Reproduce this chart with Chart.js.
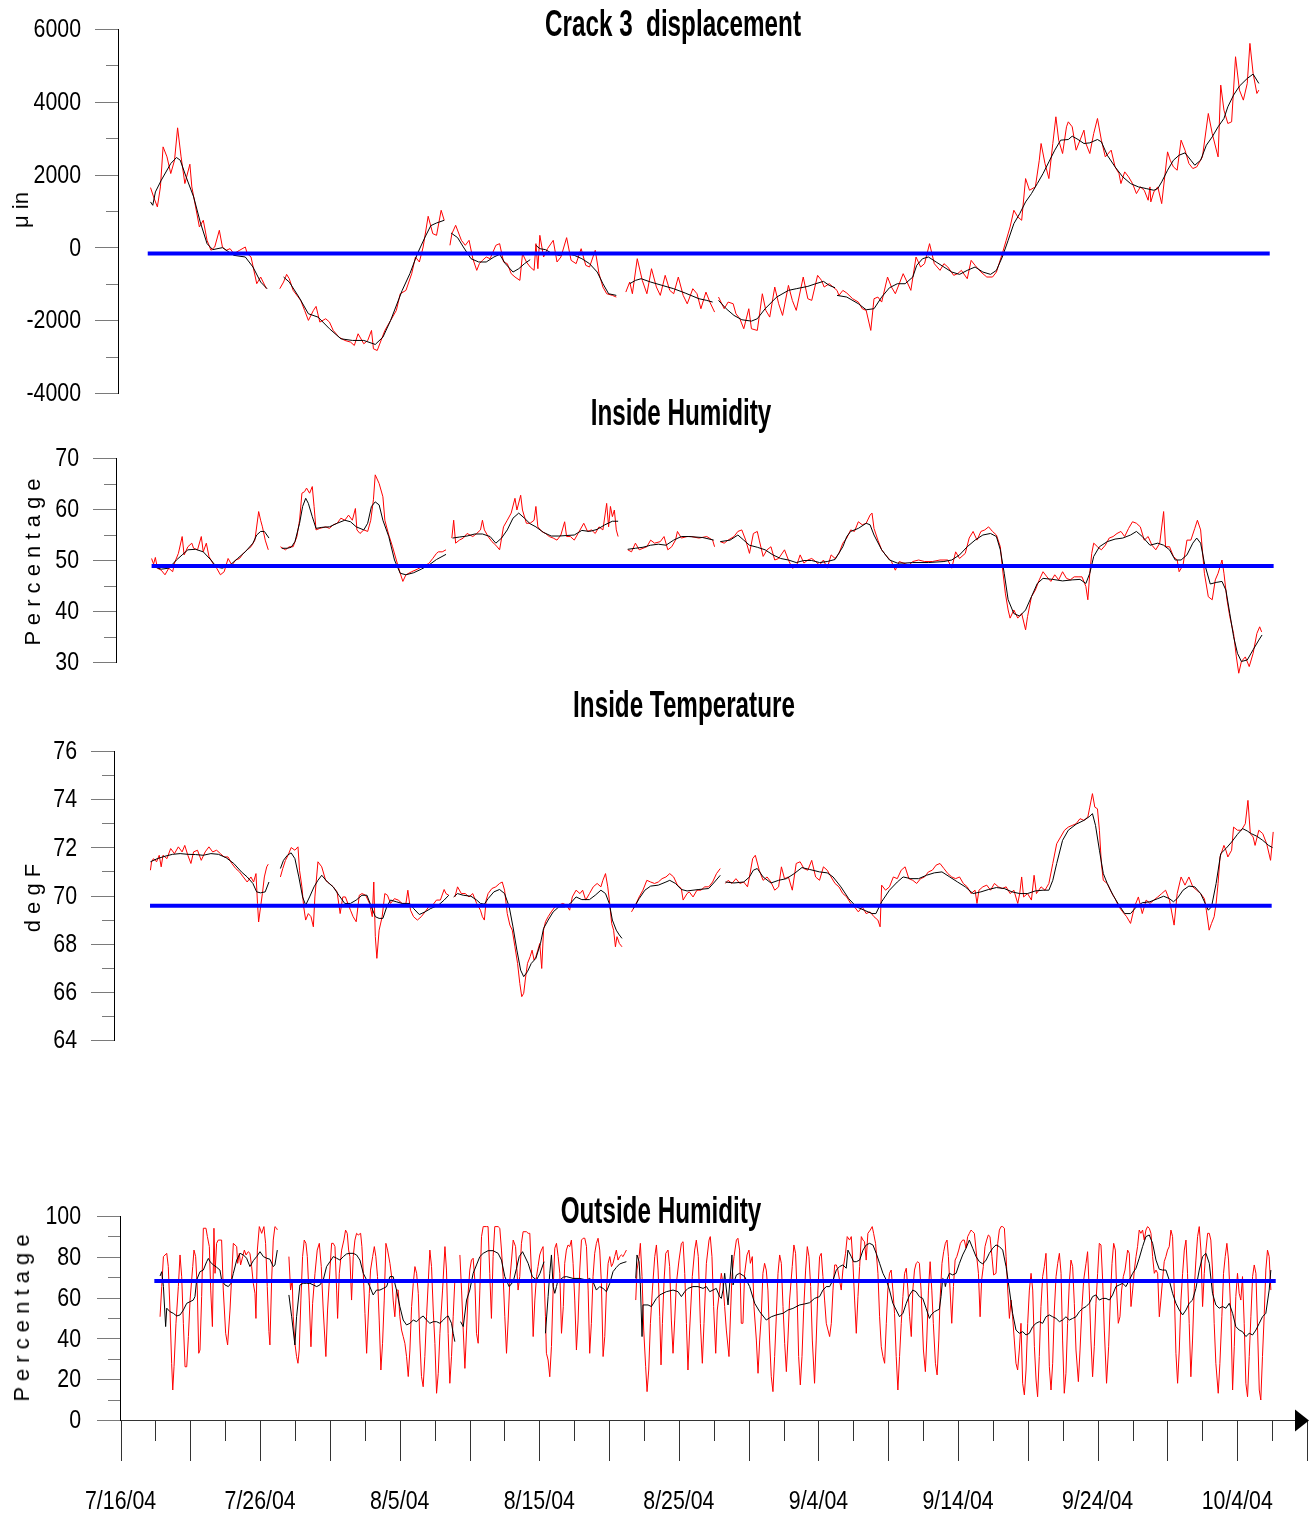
<!DOCTYPE html>
<html>
<head>
<meta charset="utf-8">
<title>Crack 3 displacement</title>
<script src="https://cdn.jsdelivr.net/npm/chart.js@4.4.1/dist/chart.umd.min.js"></script>
<style>
  html, body { margin: 0; padding: 0; background: #fff; }
  #page { position: relative; width: 1315px; height: 1519px; overflow: hidden; background: #fff; }
  #page canvas { position: absolute; left: 0; }
  .ttl { position: absolute; font-family: 'Liberation Sans', Arimo, Arial, sans-serif;
         font-weight: bold; font-size: 37px; line-height: 37px; white-space: pre;
         transform: translateX(-50%) scaleX(0.655); color: #000; }
  .ylab { position: absolute; font-family: 'Liberation Sans', Arimo, Arial, sans-serif; font-size: 22px; line-height: 24px;
          white-space: pre; transform: translate(-50%, -50%) rotate(-90deg); color: #000; }
</style>
</head>
<body>
<div id="page">
  <canvas id="cCrack" width="1315" height="415" style="top:0px"></canvas>
  <canvas id="cHumIn" width="1315" height="285" style="top:400px"></canvas>
  <canvas id="cTempIn" width="1315" height="360" style="top:700px"></canvas>
  <canvas id="cHumOut" width="1315" height="339" style="top:1180px"></canvas>

  <div class="ttl" style="left:673px; top:5px">Crack 3  displacement</div>
  <div class="ttl" style="left:681px; top:394px">Inside Humidity</div>
  <div class="ttl" style="left:684px; top:686px">Inside Temperature</div>
  <div class="ttl" style="left:661px; top:1192px">Outside Humidity</div>

  <div class="ylab" style="left:21px; top:210px">μ in</div>
  <div class="ylab" style="left:33px; top:562px">P e r c e n t a g e</div>
  <div class="ylab" style="left:33px; top:898px">d e g F</div>
  <div class="ylab" style="left:22px; top:1318px">P e r c e n t a g e</div>
</div>

<script>
// ── DATA (x = days after 7/16/04, null = break in the record) ──

// Crack 3 displacement, µin : raw readings (red) and smoothed (black)
const crackRed = [
  [2.15,1643],[2.37,1387],[2.64,1112],[2.86,1662],[3.05,2762],[3.33,2487],[3.6,2029],[3.87,2395],[4.09,3285],[4.34,2487],
  [4.61,1754],[4.97,2285],[5.11,1662],[5.38,1112],[5.65,562],[5.93,745],[6.2,195],[6.48,-80],[6.75,11],[7.08,470],
  [7.3,11],[7.57,-80],[7.85,-35],[8.12,-172],[8.53,-80],[8.94,11],[9.08,-172],[9.35,-264],[9.76,-997],[10.04,-814],[10.45,-1135],
  null,
  [11.41,-1135],[11.68,-952],[11.9,-741],[12.09,-860],[12.37,-1181],[12.91,-1456],[13.19,-1731],[13.46,-2006],[13.82,-1731],
  [14.01,-1621],[14.28,-2052],[14.7,-1960],[14.97,-2052],[15.24,-2281],[15.65,-2465],[16.07,-2556],[16.48,-2602],[16.75,-2694],
  [17.02,-2373],[17.43,-2648],[17.71,-2556],[17.98,-2281],[18.12,-2786],[18.39,-2832],[18.94,-2281],[19.35,-2006],[19.76,-1731],
  [20.04,-1273],[20.45,-1181],[20.86,-722],[21.13,-264],[21.41,-401],[21.68,11],[22.04,855],[22.37,378],[22.64,332],[22.97,1020],[23.19,745],
  null,
  [23.6,57],[23.74,378],[24.01,607],[24.42,195],[24.7,57],[24.97,195],[25.24,-310],[25.52,-631],[25.71,-447],[25.93,-356],
  [26.2,-264],[26.48,-310],[26.89,57],[27.16,103],[27.44,-401],[27.71,-447],[27.99,-722],[28.26,-814],[28.61,-906],[28.8,-172],
  [29.08,-401],[29.35,-539],[29.63,-631],[29.76,103],[29.9,-585],[30.04,332],[30.31,-264],[30.59,-35],[31.0,195],[31.27,-401],
  [31.55,-264],[31.96,268],[32.28,-356],[32.64,-447],[33.0,-35],[33.33,-493],[33.6,-539],[34.01,-80],[34.28,-722],[34.56,-1089],
  [34.83,-1273],[35.24,-1318],[35.52,-1364],
  null,
  [36.2,-1227],[36.48,-952],[36.67,-1273],[37.02,-310],[37.38,-906],[37.71,-1273],[38.04,-585],[38.39,-1089],[38.67,-1318],
  [39.02,-768],[39.35,-1181],[39.63,-1273],[39.96,-814],[40.31,-1318],[40.6,-1550],[41.0,-1135],[41.3,-1273],[41.58,-1685],
  [41.94,-1227],[42.22,-1502],[42.56,-1777],
  null,
  [42.84,-1364],[43.25,-1685],[43.53,-1502],[43.89,-1548],[44.09,-1823],[44.37,-1960],[44.65,-2235],[45.01,-1685],[45.2,-2235],
  [45.62,-2281],[45.98,-1273],[46.23,-1731],[46.51,-1915],[46.87,-1089],[47.15,-1548],[47.43,-1869],[47.85,-1043],[48.13,-1456],
  [48.41,-1731],[48.91,-814],[49.24,-1410],[49.52,-1456],[49.94,-768],[50.22,-906],[50.41,-1089],[50.77,-998],[51.05,-1089],
  [51.33,-1181],[51.47,-1318],[51.75,-1181],[52.03,-1254],[52.45,-1410],[52.86,-1502],[53.14,-1685],[53.42,-1731],[53.75,-2281],
  [53.98,-1410],[54.26,-1364],[54.53,-1502],[54.95,-814],[55.23,-1089],[55.51,-1273],[55.79,-998],[56.07,-722],[56.35,-952],
  [56.62,-1181],[56.99,-264],[57.32,-539],[57.6,-447],[57.96,103],[58.3,-447],[58.71,-631],[58.99,-447],[59.27,-539],[59.69,-768],
  [59.97,-722],[60.24,-631],[60.66,-860],[60.94,-356],[61.22,-493],[61.64,-677],[62.06,-814],[62.47,-814],[62.75,-677],[63.17,-172],
  [63.45,195],[63.73,562],[64.0,1020],[64.28,837],[64.56,745],[64.84,1891],[65.12,1570],[65.54,1662],[65.82,2395],[65.95,2854],
  [66.23,2304],[66.51,1891],[66.79,2854],[67.01,3588],[67.21,2946],[67.49,2579],[67.77,3312],[67.9,3450],[68.18,3312],[68.46,2671],
  [68.74,2946],[69.02,3221],[69.16,2854],[69.44,2579],[69.72,3129],[69.99,3542],[70.27,2946],[70.55,2487],[70.97,2671],[71.25,2212],
  [71.53,2029],[71.67,1754],[71.94,2075],[72.22,1937],[72.5,1754],[72.78,1478],[73.06,1662],[73.34,1570],[73.62,1295],[73.75,1662],
  [73.81,1249],[74.03,1524],[74.31,1662],[74.59,1203],[75.01,2625],[75.2,2395],[75.43,2212],[75.7,2120],[75.98,2946],[76.26,2671],
  [76.54,2304],[76.82,2166],[77.1,2212],[77.51,2487],[77.93,3679],[78.21,3129],[78.63,2487],[78.82,4459],[79.05,3771],[79.33,3404],
  [79.6,3450],[79.88,5238],[80.16,4321],[80.44,4046],[80.72,4505],[80.91,5605],[81.14,4780],[81.41,4229],[81.55,4321]
];
const crackBlack = [
  [2.15,1249],[2.31,1157],[2.5,1524],[2.92,1845],[3.6,2304],[4.01,2469],[4.28,2395],[4.7,1937],[5.24,1387],[5.71,699],
  [6.2,103],[6.61,-62],[7.3,-7],[8.12,-218],[8.94,-264],[9.49,-539],[10.04,-952],[10.5,-1135],
  null,
  [11.68,-814],[12.09,-952],[12.78,-1364],[13.46,-1823],[14.15,-1915],[14.97,-2235],[15.79,-2511],[16.61,-2556],[17.43,-2556],
  [18.25,-2666],[18.8,-2465],[19.35,-2006],[20.18,-1181],[20.73,-722],[21.27,-172],[21.82,286],[22.23,598],[22.64,671],[23.19,745],
  null,
  [23.68,396],[24.15,268],[24.56,11],[25.11,-310],[25.66,-401],[26.2,-401],[26.75,-264],[27.16,-191],[27.57,-447],[28.12,-677],
  [28.53,-585],[28.94,-447],[29.35,-337],
  null,
  [29.76,57],[30.04,-35],[30.45,-62],[30.86,-154],[31.41,-218],[31.96,-172],[32.51,-218],[33.05,-310],[33.6,-447],[34.15,-677],
  [34.56,-998],[34.97,-1273],[35.52,-1318],
  null,
  [36.48,-998],[36.89,-906],[37.3,-860],[37.98,-952],[38.8,-1043],[39.63,-1135],[40.45,-1254],[41.44,-1410],[42.0,-1456],[42.42,-1502],
  null,
  [42.84,-1456],[43.39,-1685],[43.95,-1869],[44.51,-1988],[45.2,-2025],[45.62,-1960],[46.18,-1685],[47.01,-1364],[47.85,-1181],
  [48.41,-1135],[49.24,-1071],[49.8,-998],[50.36,-933],[50.77,-1043],[51.19,-1108],
  null,
  [51.33,-1318],[52.03,-1364],[52.86,-1548],[53.42,-1713],[53.98,-1685],[54.53,-1364],[55.09,-1108],[55.65,-998],[56.21,-998],
  [56.76,-814],[57.04,-493],[57.46,-310],[57.88,-264],[58.43,-401],[58.99,-539],[59.55,-677],[60.11,-741],[60.66,-631],[61.22,-539],
  [61.78,-677],[62.33,-741],[62.75,-631],[63.17,-264],[63.59,195],[64.0,653],[64.42,928],[64.84,1249],[65.26,1478],[65.68,1754],
  [66.09,2029],[66.51,2349],[66.93,2671],[67.35,2946],[67.9,2964],[68.18,3056],[68.6,2964],[69.02,2854],[69.44,2872],[69.99,2964],
  [70.27,2900],[70.69,2533],[71.25,2212],[71.8,1937],[72.36,1754],[72.92,1662],[73.48,1616],[74.03,1570],[74.31,1616],[74.59,1799],
  [75.01,2120],[75.43,2395],[75.84,2533],[76.26,2597],[76.68,2395],[76.96,2258],[77.38,2395],[77.79,2808],[78.21,3037],[78.63,3312],
  [79.05,3542],[79.33,3863],[79.74,4184],[80.16,4431],[80.72,4642],[81.14,4761],[81.55,4505]
];
const crackMean = [[1.95,-170],[82.33,-170]];

// Inside humidity, %
const humInRed = [
  [2.23,50.3],[2.37,49.2],[2.5,50.5],[2.64,48.4],[2.92,48.0],[3.19,47.1],[3.46,48.4],[3.74,47.7],[3.87,49.4],[4.15,51.3],
  [4.42,54.6],[4.56,51.0],[4.83,52.6],[5.11,53.3],[5.24,52.3],[5.52,52.0],[5.79,54.6],[5.93,51.6],[6.15,53.3],[6.34,50.7],
  [6.61,49.4],[6.89,48.4],[7.16,47.1],[7.43,47.7],[7.71,50.3],[7.98,49.0],[8.26,50.0],[8.53,50.3],[8.8,51.3],[9.08,52.0],
  [9.35,52.6],[9.63,53.9],[9.9,59.5],[10.04,57.8],[10.17,56.5],[10.37,53.9],[10.59,52.0],
  null,
  [11.46,52.6],[11.63,52.3],[11.82,52.0],[12.09,52.6],[12.37,52.6],[12.64,54.6],[12.83,57.8],[13.0,63.1],[13.19,63.4],[13.33,64.1],
  [13.55,63.1],[13.74,64.4],[13.87,60.5],[14.01,55.9],[14.28,56.2],[14.7,56.5],[14.97,56.2],[15.24,56.9],[15.52,57.2],[15.79,58.2],
  [16.07,57.8],[16.34,58.8],[16.61,57.8],[16.83,60.1],[16.94,55.9],[17.16,55.2],[17.43,55.9],[17.71,55.6],[17.93,57.8],[18.12,61.8],
  [18.25,66.7],[18.53,65.0],[18.8,62.4],[18.94,57.8],[19.22,54.9],[19.49,52.6],[19.76,50.0],[20.04,47.4],[20.23,45.8],[20.45,47.1],
  [20.86,47.7],[21.27,48.2],[21.68,48.8],[22.09,49.3],[22.37,50.3],[22.64,51.3],[22.78,51.6],[23.05,51.6],[23.32,52.0],
  null,
  [23.74,54.3],[23.87,57.8],[24.01,53.3],[24.28,53.9],[24.56,54.3],[24.83,55.2],[25.24,54.6],[25.52,55.2],[25.79,55.9],[25.93,57.8],
  [26.07,55.9],[26.34,54.6],[26.61,53.6],[26.89,52.9],[27.16,52.0],[27.44,56.5],[27.71,57.8],[27.99,59.2],[28.26,62.1],[28.4,59.8],
  [28.67,62.7],[28.8,59.8],[29.08,57.2],[29.35,57.2],[29.63,57.8],[29.76,60.5],[29.9,56.5],[30.18,55.6],[30.45,55.2],[30.72,54.6],
  [31.0,54.3],[31.27,53.9],[31.55,54.9],[31.82,57.5],[31.96,54.6],[32.23,54.6],[32.51,53.9],[32.78,55.2],[33.19,57.2],[33.46,55.6],
  [33.74,55.9],[34.01,55.2],[34.28,56.5],[34.56,55.9],[34.83,61.1],[34.97,56.5],[35.1,60.5],[35.24,58.5],[35.38,59.8],[35.52,55.9],[35.65,54.6],
  null,
  [36.34,52.0],[36.61,51.6],[36.89,53.3],[37.16,52.0],[37.43,52.3],[37.71,52.6],[37.98,53.9],[38.26,53.3],[38.67,53.6],[38.94,54.6],
  [39.21,52.0],[39.49,52.6],[39.76,53.9],[39.9,55.6],[40.18,54.3],[40.59,54.6],[40.89,54.6],[41.44,54.3],[42.0,54.6],[42.42,53.9],[42.56,52.6],
  null,
  [42.97,53.6],[43.25,53.3],[43.53,53.9],[43.95,54.6],[44.23,55.6],[44.51,55.9],[44.79,53.9],[45.06,51.3],[45.34,55.2],[45.62,55.6],
  [45.76,53.9],[46.04,50.7],[46.32,52.0],[46.6,52.6],[46.87,50.0],[47.15,50.3],[47.57,52.0],[47.85,50.0],[48.13,48.4],[48.41,48.7],
  [48.69,51.0],[48.96,49.4],[49.24,50.0],[49.52,50.3],[49.8,49.7],[50.08,49.0],[50.36,50.0],[50.63,48.4],[50.91,51.0],[51.19,50.3],
  [51.47,51.3],[51.75,53.3],[52.03,54.3],[52.31,55.9],[52.58,55.6],[52.86,57.5],[53.14,56.9],[53.42,57.2],[53.7,58.8],[53.84,59.2],
  [53.98,56.2],[54.26,53.9],[54.53,52.0],[54.81,51.0],[55.23,49.7],[55.51,48.0],[55.79,49.7],[56.07,49.4],[56.48,49.0],[56.76,49.7],
  [57.18,50.0],[57.6,49.7],[58.16,49.7],[58.71,50.0],[59.27,50.0],[59.55,48.4],[59.83,51.6],[60.11,50.3],[60.52,51.3],[60.8,54.3],
  [61.08,55.6],[61.36,53.9],[61.64,55.6],[61.92,55.9],[62.19,56.5],[62.47,55.6],[62.75,54.9],[63.03,52.6],[63.17,48.7],[63.39,43.5],
  [63.59,40.2],[63.73,38.6],[64.0,40.2],[64.28,38.6],[64.56,39.5],[64.84,36.3],[64.98,38.9],[65.26,42.8],[65.54,44.1],[65.82,46.1],
  [66.09,47.7],[66.37,46.7],[66.65,45.8],[66.93,47.1],[67.21,46.1],[67.49,47.7],[67.77,46.4],[68.04,46.1],[68.32,46.7],[68.6,46.7],
  [68.88,46.7],[69.16,44.8],[69.3,42.2],[69.44,47.4],[69.58,51.3],[69.72,53.3],[69.99,52.6],[70.27,52.0],[70.55,52.9],[70.83,54.3],
  [71.11,54.6],[71.39,55.2],[71.67,55.6],[71.94,54.6],[72.22,56.2],[72.5,57.5],[72.78,57.2],[73.06,56.5],[73.34,53.9],[73.62,54.6],
  [73.89,52.9],[74.17,52.0],[74.45,53.3],[74.73,59.5],[74.87,52.6],[75.15,52.6],[75.43,50.7],[75.7,50.0],[75.84,47.7],[76.12,49.0],
  [76.4,53.9],[76.68,53.9],[76.96,56.2],[77.15,57.8],[77.38,55.9],[77.65,47.4],[77.93,42.8],[78.21,42.2],[78.43,46.1],[78.63,47.4],
  [78.91,50.0],[79.05,47.4],[79.27,42.2],[79.47,38.9],[79.74,35.6],[79.94,31.0],[80.11,27.8],[80.3,30.1],[80.58,31.0],[80.86,29.1],
  [81.14,31.7],[81.41,35.6],[81.61,36.9],[81.75,35.9]
];
const humInBlack = [
  [2.37,48.7],[2.92,48.2],[3.46,48.4],[4.01,50.0],[4.42,51.0],[4.83,52.0],[5.38,52.1],[5.93,51.6],[6.48,50.0],[6.89,48.6],
  [7.3,48.4],[7.85,49.0],[8.39,50.3],[8.94,51.6],[9.49,53.3],[9.76,54.9],[10.04,55.6],[10.31,55.6],[10.64,54.3],
  null,
  [11.55,52.3],[11.96,52.3],[12.23,52.5],[12.5,53.6],[12.83,57.2],[13.05,60.5],[13.27,62.1],[13.46,61.1],[13.74,58.5],[14.01,56.2],
  [14.42,56.4],[14.97,56.5],[15.52,57.2],[16.07,57.8],[16.48,57.5],[16.89,56.5],[17.43,55.9],[17.71,57.2],[17.98,60.5],[18.25,61.4],
  [18.53,60.8],[18.8,57.8],[19.22,54.6],[19.63,50.0],[20.04,47.4],[20.45,47.1],[21.0,47.5],[21.55,48.2],[22.09,49.0],[22.64,50.1],[23.32,51.1],
  null,
  [23.79,54.3],[24.28,54.5],[24.83,54.7],[25.38,55.1],[25.93,55.1],[26.48,54.6],[26.89,53.3],[27.3,54.3],[27.71,55.9],[28.12,58.2],
  [28.53,59.2],[28.94,58.2],[29.35,57.1],[29.76,56.5],[30.31,55.4],[30.86,54.7],[31.41,54.7],[31.96,54.8],[32.51,54.9],[33.05,55.8],
  [33.6,55.6],[34.15,56.0],[34.7,56.9],[35.24,57.6],[35.65,57.6],
  null,
  [36.34,52.1],[36.89,52.3],[37.43,52.5],[37.98,52.9],[38.53,53.1],[39.08,52.9],[39.63,53.9],[40.18,54.6],[40.72,54.6],[41.72,54.4],[42.5,53.9],
  null,
  [42.97,53.6],[43.67,53.9],[44.23,54.9],[44.65,53.9],[45.06,52.9],[45.62,52.5],[46.18,52.0],[46.74,51.0],[47.29,50.3],[47.85,50.0],
  [48.41,49.5],[48.96,49.9],[49.52,49.9],[50.08,49.5],[50.63,49.7],[51.19,50.1],[51.75,52.6],[52.03,54.6],[52.31,55.6],[52.86,56.2],
  [53.42,57.2],[53.7,56.9],[53.98,54.9],[54.53,52.0],[55.09,50.0],[55.65,49.4],[56.21,49.4],[56.76,49.5],[57.88,49.5],[58.99,49.7],
  [59.55,50.0],[60.11,51.0],[60.66,52.6],[61.22,53.9],[61.78,54.9],[62.33,55.2],[62.75,54.6],[63.03,52.0],[63.31,47.4],[63.59,42.2],
  [64.0,39.5],[64.42,39.0],[64.84,40.2],[65.26,42.8],[65.68,45.4],[66.09,46.4],[66.79,46.2],[67.49,45.9],[68.18,46.1],[68.74,46.2],
  [69.16,45.4],[69.44,47.4],[69.72,50.7],[70.13,52.6],[70.69,53.6],[71.25,54.1],[71.8,54.3],[72.36,54.9],[72.78,55.6],[73.2,54.6],
  [73.75,52.9],[74.31,53.3],[74.73,52.9],[75.15,52.0],[75.56,50.0],[75.98,50.0],[76.4,51.0],[76.82,53.3],[77.1,54.3],[77.38,53.3],
  [77.65,49.4],[78.07,45.3],[78.49,45.6],[78.91,45.8],[79.19,44.1],[79.47,39.5],[79.74,35.0],[80.02,31.7],[80.3,30.1],[80.72,30.4],
  [81.14,32.4],[81.55,34.3],[81.78,35.3]
];
const humInMean = [[2.23,48.8],[82.61,48.8]];

// Inside temperature, deg F
const tempInRed = [
  [2.15,71.05],[2.23,71.4],[2.37,71.53],[2.59,71.4],[2.78,71.67],[2.92,71.19],[3.05,71.67],[3.33,71.53],[3.6,71.95],[3.87,71.74],
  [4.15,72.02],[4.42,71.81],[4.61,72.08],[4.83,71.67],[5.05,71.33],[5.24,71.81],[5.52,71.88],[5.79,71.46],[6.07,71.81],[6.34,72.02],
  [6.61,71.81],[6.89,71.88],[7.16,71.74],[7.43,71.6],[7.71,71.6],[7.98,71.33],[8.26,71.12],[8.53,70.98],[8.8,70.77],[9.08,70.56],
  [9.35,70.77],[9.54,70.56],[9.71,70.91],[9.82,69.67],[9.9,68.9],[10.04,69.53],[10.17,70.08],[10.31,70.77],[10.48,71.19],[10.59,71.3],
  null,
  [11.46,70.77],[11.63,71.12],[11.82,71.46],[12.01,71.67],[12.23,71.99],[12.5,71.88],[12.72,72.02],[12.83,71.05],[13.0,70.36],[13.13,69.53],
  [13.27,68.98],[13.46,69.25],[13.65,69.12],[13.82,68.7],[13.93,69.94],[14.15,71.4],[14.42,71.19],[14.7,70.63],[14.97,70.5],[15.24,70.36],
  [15.52,70.15],[15.74,69.25],[15.93,69.94],[16.12,69.94],[16.29,69.67],[16.48,69.39],[16.67,69.12],[16.89,68.91],[17.11,70.01],[17.3,70.08],
  [17.57,70.01],[17.85,69.67],[18.04,69.12],[18.15,70.56],[18.26,68.29],[18.37,67.39],[18.53,68.56],[18.75,69.12],[18.94,70.08],[19.13,70.01],
  [19.35,69.67],[19.63,69.87],[19.9,69.81],[20.18,69.67],[20.45,69.67],[20.59,70.22],[20.78,69.39],[21.0,69.12],[21.27,68.98],[21.55,69.12],
  [21.82,69.32],[22.09,69.53],[22.37,69.6],[22.64,69.81],[22.92,69.81],[23.19,70.25],[23.32,70.08],[23.52,70.01],
  null,
  [23.96,69.94],[24.15,70.36],[24.42,70.08],[24.7,70.08],[24.97,69.94],[25.24,70.08],[25.52,69.67],[25.79,69.39],[25.93,69.12],[26.07,68.98],
  [26.2,69.81],[26.34,70.08],[26.61,70.29],[26.89,70.36],[27.16,70.5],[27.35,70.56],[27.52,70.22],[27.71,69.25],[27.9,68.77],[28.07,68.56],
  [28.26,67.87],[28.45,67.18],[28.61,66.35],[28.75,65.8],[28.89,65.94],[29.0,66.49],[29.16,67.18],[29.35,67.46],[29.49,67.73],[29.63,67.32],
  [29.76,67.46],[29.9,67.73],[30.04,68.01],[30.18,66.97],[30.31,68.56],[30.45,68.91],[30.64,69.12],[30.86,69.32],[31.13,69.53],[31.41,69.6],
  [31.68,69.67],[31.96,69.6],[32.18,69.39],[32.37,69.94],[32.64,70.22],[32.92,70.08],[33.11,70.22],[33.33,69.81],[33.6,70.08],[33.87,70.36],
  [34.15,70.5],[34.42,70.36],[34.56,70.63],[34.75,70.91],[34.91,70.36],[35.05,69.67],[35.19,68.84],[35.33,68.56],[35.46,67.87],[35.57,68.29],
  [35.74,68.01],[35.93,67.87],
  null,
  [36.61,69.32],[36.89,69.6],[37.16,69.94],[37.43,70.22],[37.71,70.63],[37.98,70.56],[38.26,70.5],[38.53,70.56],[38.8,70.7],[39.08,70.77],
  [39.35,70.91],[39.63,70.77],[39.9,70.43],[40.18,70.29],[40.31,69.81],[40.59,70.08],[40.75,70.15],[41.02,69.94],[41.3,70.22],[41.58,70.22],
  [41.86,70.36],[42.14,70.36],[42.42,70.56],[42.7,70.91],[42.97,71.12],
  null,
  [43.34,70.5],[43.53,70.63],[43.81,70.5],[44.09,70.7],[44.37,70.5],[44.65,70.56],[44.92,70.36],[45.06,70.77],[45.29,71.53],[45.48,71.67],
  [45.76,71.05],[46.04,70.63],[46.32,70.77],[46.6,70.56],[46.87,70.22],[47.15,70.36],[47.35,71.19],[47.57,70.7],[47.85,70.77],[48.13,70.22],
  [48.41,71.33],[48.69,71.4],[48.96,71.12],[49.24,71.05],[49.52,71.46],[49.8,70.77],[50.08,70.63],[50.36,71.19],[50.63,71.05],[50.91,70.77],
  [51.19,70.5],[51.47,70.36],[51.75,70.08],[52.03,69.94],[52.31,69.67],[52.58,69.53],[52.86,69.32],[53.14,69.53],[53.42,69.25],[53.7,69.32],
  [53.98,69.12],[54.26,68.98],[54.42,68.7],[54.53,70.43],[54.81,70.22],[55.09,70.36],[55.37,70.77],[55.65,70.7],[55.93,71.05],[56.21,71.19],
  [56.48,70.7],[56.76,70.63],[57.04,70.5],[57.32,70.7],[57.6,70.77],[57.88,70.98],[58.16,71.05],[58.43,71.26],[58.71,71.33],[58.99,71.12],
  [59.27,70.91],[59.55,70.77],[59.83,70.7],[60.11,70.77],[60.38,70.5],[60.66,70.36],[60.94,70.08],[61.22,70.22],[61.36,69.67],[61.5,70.22],
  [61.78,70.36],[62.06,70.43],[62.33,70.22],[62.61,70.5],[62.89,70.36],[63.17,70.29],[63.45,70.36],[63.73,70.08],[64.0,70.22],[64.28,69.67],
  [64.42,70.08],[64.56,70.77],[64.7,69.94],[64.98,70.08],[65.26,69.81],[65.45,70.84],[65.62,70.08],[65.95,70.36],[66.23,70.22],[66.51,70.5],
  [66.79,71.33],[67.07,72.15],[67.35,72.43],[67.63,72.71],[67.9,72.84],[68.18,72.91],[68.46,72.98],[68.74,73.19],[69.02,73.12],[69.3,73.26],
  [69.44,73.67],[69.63,74.23],[69.8,73.67],[69.99,73.6],[70.13,72.71],[70.27,71.33],[70.41,70.63],[70.69,70.5],[70.97,70.15],[71.25,69.87],
  [71.53,69.53],[71.8,69.32],[72.08,69.12],[72.36,68.84],[72.64,69.53],[72.92,69.94],[73.2,69.25],[73.48,69.81],[73.75,69.67],[74.03,69.81],
  [74.31,69.94],[74.59,70.08],[74.87,70.22],[75.15,69.81],[75.48,68.77],[75.7,70.08],[75.98,70.77],[76.26,70.43],[76.54,70.77],[76.82,70.36],
  [77.1,70.22],[77.38,70.08],[77.65,69.87],[77.79,69.39],[77.99,68.56],[78.16,68.84],[78.35,69.12],[78.49,69.67],[78.63,70.5],[78.77,71.6],
  [79.05,72.08],[79.19,71.88],[79.33,71.6],[79.6,71.88],[79.74,72.84],[80.02,72.71],[80.3,72.71],[80.58,72.98],[80.77,73.95],[80.94,72.57],
  [81.14,72.43],[81.28,72.08],[81.55,72.71],[81.83,72.57],[82.11,72.15],[82.39,71.46],[82.58,72.64]
];
const tempInBlack = [
  [2.15,71.4],[2.64,71.53],[3.19,71.63],[3.74,71.71],[4.28,71.74],[4.83,71.71],[5.38,71.7],[5.93,71.67],[6.48,71.74],[7.02,71.71],
  [7.57,71.57],[8.12,71.33],[8.67,70.98],[9.08,70.77],[9.49,70.5],[9.76,70.15],[10.04,70.11],[10.37,70.15],[10.64,70.56],
  null,
  [11.46,71.12],[11.68,71.46],[11.96,71.67],[12.23,71.77],[12.5,71.53],[12.78,70.77],[13.05,69.94],[13.27,69.6],[13.55,69.94],[13.87,70.36],
  [14.15,70.63],[14.42,70.84],[14.83,70.56],[15.24,70.36],[15.65,70.01],[16.07,69.67],[16.48,69.67],[16.89,69.81],[17.3,70.01],[17.66,70.01],
  [17.98,69.53],[18.26,69.12],[18.53,69.05],[18.8,69.05],[19.08,69.53],[19.35,69.81],[19.76,69.74],[20.18,69.67],[20.72,69.67],[21.0,69.46],
  [21.41,69.21],[21.82,69.32],[22.23,69.46],[22.78,69.6],[23.19,69.81],[23.52,70.01],
  null,
  [23.87,69.94],[24.15,70.08],[24.56,70.01],[25.11,69.97],[25.52,69.81],[25.79,69.67],[26.07,69.64],[26.34,69.87],[26.75,70.15],[27.16,70.25],
  [27.52,70.08],[27.85,69.53],[28.12,68.7],[28.4,67.73],[28.67,66.9],[28.89,66.63],[29.16,66.84],[29.43,67.18],[29.76,67.39],[30.09,68.01],
  [30.31,68.63],[30.64,68.98],[31.0,69.32],[31.41,69.53],[31.82,69.53],[32.23,69.67],[32.64,69.94],[33.05,69.83],[33.6,69.83],[34.01,70.01],
  [34.42,70.22],[34.75,70.08],[35.02,69.67],[35.24,68.98],[35.52,68.56],[35.74,68.36],[35.93,68.22],
  null,
  [36.75,69.46],[37.16,69.87],[37.57,70.22],[37.98,70.39],[38.53,70.43],[39.08,70.56],[39.35,70.63],[39.76,70.5],[40.18,70.25],[40.59,70.19],
  [41.44,70.25],[42.14,70.29],[42.56,70.56],[42.97,70.84],
  null,
  [43.34,70.56],[43.95,70.52],[44.65,70.56],[45.06,70.77],[45.34,71.05],[45.62,71.12],[46.04,70.77],[46.6,70.52],[47.15,70.63],[47.71,70.7],
  [48.27,70.91],[48.82,71.16],[49.38,71.08],[50.08,70.98],[50.63,70.94],[51.05,70.77],[51.61,70.36],[52.17,69.87],[52.72,69.53],[53.28,69.39],
  [53.84,69.25],[54.12,69.25],[54.53,69.74],[55.09,70.22],[55.65,70.56],[56.07,70.77],[56.62,70.7],[57.18,70.7],[57.74,70.84],[58.3,70.94],
  [58.85,70.98],[59.41,70.77],[59.97,70.56],[60.52,70.36],[61.08,70.08],[61.64,70.15],[62.19,70.25],[62.75,70.33],[63.31,70.29],[63.87,70.15],
  [64.42,70.08],[64.98,70.08],[65.54,70.19],[66.09,70.22],[66.51,70.22],[66.79,70.63],[67.07,71.33],[67.49,72.29],[67.9,72.71],[68.46,72.96],
  [69.02,73.12],[69.44,73.29],[69.63,73.4],[69.85,72.91],[70.13,71.88],[70.41,70.91],[70.69,70.5],[71.11,70.01],[71.53,69.6],[71.94,69.25],
  [72.36,69.25],[72.78,69.53],[73.2,69.7],[73.75,69.74],[74.31,69.87],[74.73,69.97],[75.15,69.87],[75.43,69.74],[75.7,69.87],[76.12,70.22],
  [76.54,70.39],[76.96,70.36],[77.38,70.08],[77.71,69.67],[77.93,69.39],[78.16,69.53],[78.49,70.5],[78.82,71.74],[79.19,71.95],[79.6,72.22],
  [80.02,72.54],[80.38,72.78],[80.72,72.68],[81.0,72.57],[81.41,72.46],[81.83,72.29],[82.25,72.08],[82.53,71.99]
];
const tempInMean = [[2.12,69.57],[82.47,69.57]];

// Outside humidity, %
const humOutRed = [
  [2.83,50.6],[2.95,65.4],[3.07,80.1],[3.31,81.7],[3.42,75.2],[3.54,53.9],[3.66,27.8],[3.74,14.7],[3.83,26.1],[3.97,47.4],
  [4.14,65.4],[4.26,80.9],[4.38,70.2],[4.5,47.4],[4.62,26.1],[4.74,26.1],[4.86,40.9],[4.98,58.8],[5.17,75.2],[5.26,83.3],
  [5.38,80.1],[5.5,63.7],[5.6,32.7],[5.69,34.3],[5.81,60.5],[5.93,94.0],[6.12,94.0],[6.22,89.9],[6.36,85.0],[6.46,63.7],
  [6.58,45.8],[6.69,94.0],[6.77,71.9],[6.88,86.6],[7.0,88.2],[7.24,88.2],[7.36,63.7],[7.53,42.5],[7.67,36.8],[7.84,53.9],
  [8.08,86.6],[8.2,85.8],[8.32,85.0],[8.39,76.8],[8.51,81.7],[8.6,76.0],[8.75,80.1],[8.87,83.3],[8.99,80.9],[9.15,82.5],
  [9.27,81.7],[9.39,75.2],[9.51,67.0],[9.63,62.1],[9.7,49.8],[9.8,83.3],[9.94,94.8],[10.11,91.5],[10.27,94.8],[10.39,86.6],
  [10.51,65.4],[10.63,43.3],[10.7,36.8],[10.82,67.8],[10.94,88.2],[11.06,94.8],[11.18,94.0],[11.23,93.2],
  null,
  [12.06,80.1],[12.18,63.7],[12.3,68.6],[12.37,50.6],[12.49,37.6],[12.61,31.1],[12.71,27.8],[12.8,34.3],[12.92,58.8],[13.04,80.1],
  [13.16,88.2],[13.28,86.6],[13.38,80.1],[13.52,58.8],[13.64,35.9],[13.76,57.2],[13.93,71.9],[14.09,83.3],[14.24,86.6],[14.38,75.2],
  [14.52,53.9],[14.71,31.1],[14.83,53.9],[15.0,73.5],[15.12,86.6],[15.24,86.6],[15.36,85.0],[15.48,63.7],[15.55,49.8],[15.67,71.9],
  [15.84,83.3],[16.0,88.2],[16.12,93.1],[16.24,91.5],[16.34,83.3],[16.43,80.1],[16.55,58.8],[16.67,80.1],[16.79,88.2],[16.91,91.5],
  [17.03,90.7],[17.2,91.5],[17.29,85.0],[17.39,71.9],[17.51,52.3],[17.63,32.7],[17.7,44.1],[17.82,62.1],[17.91,73.5],[18.06,80.1],
  [18.18,85.0],[18.29,80.1],[18.41,70.3],[18.53,49.0],[18.65,24.5],[18.77,37.6],[18.89,58.8],[19.01,86.6],[19.13,83.3],[19.3,76.8],
  [19.42,70.3],[19.53,58.8],[19.65,50.6],[19.77,63.7],[19.89,63.7],[20.01,50.6],[20.13,44.1],[20.25,40.9],[20.37,37.6],[20.49,31.1],
  [20.61,21.3],[20.73,34.3],[20.85,55.6],[20.97,67.0],[21.09,75.2],[21.21,71.9],[21.33,62.1],[21.44,39.2],[21.56,21.3],[21.68,16.3],
  [21.8,31.1],[21.92,50.6],[22.04,67.0],[22.16,83.3],[22.28,75.2],[22.4,53.9],[22.52,37.6],[22.64,13.1],[22.76,22.9],[22.88,42.5],
  [23.07,63.7],[23.24,85.0],[23.35,73.5],[23.47,42.5],[23.59,18.0],[23.71,31.1],[23.83,50.6],[23.95,68.6],
  null,
  [24.31,80.9],[24.43,63.7],[24.55,44.1],[24.67,25.3],[24.79,44.1],[24.9,62.1],[25.02,73.5],[25.14,78.4],[25.26,79.3],[25.38,68.6],
  [25.5,42.5],[25.62,37.6],[25.74,63.7],[25.86,89.9],[25.98,94.8],[26.22,94.8],[26.33,94.8],[26.45,71.9],[26.57,49.8],[26.69,80.1],
  [26.81,94.8],[27.05,94.8],[27.17,94.0],[27.29,83.3],[27.41,70.3],[27.53,50.6],[27.65,32.7],[27.77,49.0],[27.89,68.6],[28.13,88.2],
  [28.3,85.0],[28.48,63.7],[28.6,70.3],[28.72,86.6],[28.84,92.3],[29.08,92.3],[29.2,91.5],[29.32,91.5],[29.44,71.9],[29.56,40.9],
  [29.68,58.8],[29.8,70.3],[29.91,75.2],[30.03,80.9],[30.15,83.3],[30.27,85.0],[30.44,50.6],[30.51,32.7],[30.63,29.4],[30.75,21.2],
  [30.87,36.0],[30.99,63.7],[31.11,84.2],[31.23,86.6],[31.35,80.1],[31.47,71.9],[31.59,42.5],[31.72,55.6],[31.82,76.8],[31.94,83.3],
  [32.06,85.8],[32.18,85.0],[32.3,88.2],[32.42,76.8],[32.54,58.8],[32.66,34.3],[32.78,49.0],[32.9,73.5],[33.02,88.2],[33.14,89.1],
  [33.26,89.1],[33.38,85.0],[33.5,63.7],[33.61,32.7],[33.73,47.4],[33.85,70.3],[33.97,81.7],[34.09,86.6],[34.21,89.1],[34.33,83.3],
  [34.45,67.0],[34.57,31.1],[34.69,40.9],[34.81,63.7],[34.93,76.8],[35.05,80.1],[35.17,75.2],[35.28,76.8],[35.4,80.1],[35.52,83.3],
  [35.64,78.4],[35.76,80.1],[35.88,80.9],[36.0,80.1],[36.12,81.7],[36.24,83.3],
  null,
  [36.91,58.8],[37.0,73.5],[37.15,80.1],[37.24,86.6],[37.36,70.3],[37.48,44.1],[37.62,26.1],[37.72,13.9],[37.84,24.5],[37.96,47.4],
  [38.1,63.7],[38.27,80.1],[38.39,85.8],[38.51,73.5],[38.63,50.6],[38.72,27.0],[38.82,47.4],[38.94,68.6],[39.06,81.7],[39.22,83.3],
  [39.34,75.2],[39.46,49.0],[39.58,32.7],[39.7,49.0],[39.82,67.0],[40.01,78.4],[40.18,86.6],[40.3,87.4],[40.42,71.9],[40.54,47.4],
  [40.65,24.5],[40.77,44.1],[40.96,70.3],[41.13,83.3],[41.25,88.2],[41.39,80.1],[41.54,47.4],[41.68,27.8],[41.8,47.4],[41.97,76.8],
  [42.16,88.2],[42.25,89.9],[42.37,80.1],[42.49,55.6],[42.64,32.7],[42.75,53.9],[42.92,63.7],[43.04,71.9],[43.16,67.0],[43.28,55.6],
  [43.4,44.1],[43.59,31.1],[43.71,53.9],[43.8,70.3],[43.95,80.1],[44.12,88.2],[44.23,89.1],[44.35,83.3],[44.47,47.4],[44.59,47.4],
  [44.71,71.9],[44.88,80.9],[45.02,83.3],[45.12,76.8],[45.26,80.1],[45.38,55.6],[45.55,39.2],[45.67,22.9],[45.79,39.2],[45.9,50.6],
  [46.02,71.9],[46.14,76.8],[46.26,73.5],[46.38,63.7],[46.5,39.2],[46.62,21.2],[46.74,13.9],[46.86,31.1],[46.98,50.6],[47.1,71.9],
  [47.22,80.9],[47.34,76.8],[47.46,55.6],[47.58,37.6],[47.7,23.7],[47.81,39.2],[47.93,58.8],[48.12,75.2],[48.24,85.8],[48.36,81.7],
  [48.46,63.7],[48.58,31.1],[48.7,17.2],[48.82,31.1],[48.94,53.9],[49.08,73.5],[49.2,85.0],[49.32,80.1],[49.44,65.4],[49.56,39.2],
  [49.72,18.0],[49.84,39.2],[49.96,63.7],[50.08,80.1],[50.2,81.7],[50.32,70.3],[50.44,58.8],[50.56,47.4],[50.8,40.9],[50.92,47.4],
  [51.04,63.7],[51.16,76.0],[51.28,76.0],[51.39,73.5],[51.51,68.6],[51.63,63.7],[51.75,73.5],[51.94,81.7],[52.06,89.9],[52.23,88.2],
  [52.35,89.9],[52.47,76.8],[52.59,58.8],[52.71,42.5],[52.83,60.5],[52.95,75.2],[53.07,89.9],[53.19,88.2],[53.3,87.4],[53.42,78.4],
  [53.54,91.5],[53.71,93.1],[53.85,94.8],[53.95,91.5],[54.09,86.6],[54.26,71.9],[54.38,50.6],[54.5,35.9],[54.62,31.1],[54.74,27.8],
  [54.86,47.4],[54.97,63.7],[55.09,71.9],[55.21,73.5],[55.33,63.7],[55.45,52.3],[55.57,31.1],[55.69,14.7],[55.81,31.1],[55.93,47.4],
  [56.05,60.5],[56.17,71.9],[56.29,74.4],[56.41,63.7],[56.53,50.6],[56.65,40.9],[56.76,63.7],[56.88,73.5],[57.0,76.8],[57.12,77.6],
  [57.23,76.8],[57.35,63.7],[57.52,34.3],[57.66,23.7],[57.76,39.2],[57.88,63.7],[58.0,77.6],[58.12,63.7],[58.23,47.4],[58.38,27.8],
  [58.5,22.1],[58.62,39.2],[58.71,58.8],[58.85,76.8],[58.97,82.5],[59.09,86.6],[59.21,88.2],[59.31,80.1],[59.43,63.7],[59.55,47.4],
  [59.67,65.4],[59.79,78.4],[59.91,80.1],[60.05,83.3],[60.17,86.6],[60.33,88.2],[60.45,88.2],[60.57,84.2],[60.69,89.9],[60.81,91.5],
  [60.93,93.1],[61.05,92.3],[61.17,91.5],[61.29,83.3],[61.46,71.9],[61.58,50.6],[61.69,68.6],[61.81,75.2],[61.93,85.0],[62.05,88.2],
  [62.17,90.7],[62.29,89.9],[62.43,80.1],[62.55,71.1],[62.72,71.9],[62.84,86.6],[62.96,93.1],[63.08,94.8],[63.2,94.8],[63.32,94.0],
  [63.44,80.1],[63.56,63.7],[63.68,49.8],[63.8,58.8],[63.91,50.6],[64.03,39.2],[64.15,27.8],[64.27,24.5],[64.39,34.3],[64.51,47.4],
  [64.63,18.0],[64.75,12.3],[64.87,24.5],[64.99,47.4],[65.11,63.7],[65.23,71.9],[65.35,63.7],[65.47,35.9],[65.59,19.6],[65.7,11.4],
  [65.82,31.1],[65.94,55.6],[66.06,70.3],[66.18,75.2],[66.3,81.7],[66.42,58.8],[66.54,26.1],[66.66,14.7],[66.78,27.8],[66.9,53.9],
  [67.02,70.3],[67.14,76.8],[67.26,81.7],[67.38,71.9],[67.49,39.2],[67.61,13.1],[67.73,22.9],[67.85,47.4],[67.97,67.0],[68.09,78.4],
  [68.21,75.2],[68.33,57.2],[68.45,34.3],[68.62,18.8],[68.74,34.3],[68.88,55.6],[69.0,68.6],[69.17,76.8],[69.28,82.5],[69.4,63.7],
  [69.52,39.2],[69.64,21.2],[69.76,35.9],[69.88,57.2],[70.0,71.9],[70.12,86.6],[70.24,85.8],[70.36,68.6],[70.48,44.1],[70.64,18.0],
  [70.79,35.9],[70.91,58.8],[71.03,76.8],[71.15,86.6],[71.27,83.3],[71.36,63.7],[71.48,47.4],[71.6,50.6],[71.72,63.7],[71.84,70.3],
  [71.96,73.5],[72.15,83.3],[72.27,81.7],[72.39,55.6],[72.51,63.7],[72.63,73.5],[72.75,80.1],[72.86,85.0],[72.98,93.1],[73.1,91.5],
  [73.22,93.1],[73.34,88.2],[73.46,93.1],[73.58,94.8],[73.7,94.0],[73.82,91.5],[73.94,80.1],[74.06,71.9],[74.18,73.5],[74.3,71.9],
  [74.42,50.6],[74.53,58.8],[74.65,68.6],[74.77,77.6],[74.89,80.1],[75.01,83.3],[75.13,85.0],[75.25,93.1],[75.37,89.9],[75.49,63.7],
  [75.61,32.7],[75.73,18.0],[75.85,34.3],[75.97,58.8],[76.09,71.9],[76.21,83.3],[76.33,88.2],[76.44,71.9],[76.56,47.4],[76.68,21.2],
  [76.8,39.2],[76.92,63.7],[77.04,78.4],[77.16,89.9],[77.28,94.8],[77.4,83.3],[77.52,55.6],[77.64,71.9],[77.76,83.3],[77.88,91.5],
  [78.0,91.5],[78.11,88.2],[78.23,73.5],[78.35,47.4],[78.47,27.8],[78.64,13.1],[78.76,27.8],[78.9,50.6],[79.02,71.9],[79.14,80.1],
  [79.26,86.6],[79.38,78.4],[79.55,50.6],[79.67,14.7],[79.79,35.9],[79.9,60.5],[80.02,71.9],[80.14,62.1],[80.26,58.8],[80.38,70.3],
  [80.5,47.4],[80.62,18.0],[80.74,11.4],[80.86,31.1],[80.98,50.6],[81.1,70.3],[81.22,76.0],[81.34,71.9],[81.46,44.1],[81.58,14.7],
  [81.69,9.8],[81.81,31.1],[81.93,50.6],[82.05,73.5],[82.17,83.3],[82.29,80.1],[82.41,63.7]
];
const humOutBlack = [
  [2.83,70.6],[2.95,72.7],[3.07,65.4],[3.23,45.8],[3.31,54.8],[3.54,53.1],[3.78,52.3],[4.02,51.0],[4.26,51.5],[4.5,53.9],
  [4.74,57.2],[4.98,58.0],[5.21,58.8],[5.33,60.5],[5.45,68.6],[5.69,72.7],[5.93,73.5],[6.17,77.6],[6.29,79.2],[6.41,77.6],
  [6.65,76.0],[6.88,74.9],[7.12,73.5],[7.24,68.6],[7.48,66.2],[7.72,65.4],[7.91,67.0],[8.08,71.9],[8.32,78.4],[8.56,81.7],
  [8.8,80.9],[9.03,79.3],[9.27,75.2],[9.51,78.1],[9.75,80.1],[9.99,82.5],[10.23,80.1],[10.47,79.3],[10.7,78.8],[10.94,75.2],
  [11.06,76.0],[11.23,83.3],
  null,
  [12.06,61.3],[12.26,50.6],[12.49,36.8],[12.61,50.6],[12.85,66.2],[13.09,67.0],[13.33,67.0],[13.57,67.0],[13.81,66.2],[14.05,65.4],
  [14.28,66.2],[14.52,68.6],[14.76,75.2],[15.0,77.6],[15.24,80.1],[15.48,79.3],[15.72,78.4],[15.96,80.1],[16.19,81.4],[16.43,81.7],
  [16.67,81.7],[16.91,80.9],[17.15,78.4],[17.39,71.9],[17.63,68.6],[17.86,65.4],[18.1,61.3],[18.34,63.7],[18.58,63.7],[18.82,64.5],
  [19.06,65.4],[19.3,70.3],[19.53,70.3],[19.77,63.7],[20.01,55.6],[20.25,49.0],[20.49,46.6],[20.73,47.4],[20.97,49.0],[21.21,48.2],
  [21.44,49.8],[21.68,51.0],[21.92,49.0],[22.16,47.4],[22.4,48.2],[22.64,48.2],[22.88,47.4],[23.12,49.0],[23.35,50.6],[23.47,51.0],
  [23.71,47.4],[23.83,42.5],[23.95,38.4],
  null,
  [24.36,48.2],[24.55,45.8],[24.79,58.8],[25.02,63.7],[25.26,71.9],[25.5,76.0],[25.74,80.1],[25.98,81.7],[26.33,83.0],[26.69,83.0],
  [27.05,81.7],[27.29,78.4],[27.53,70.3],[27.84,65.4],[28.13,67.8],[28.37,74.4],[28.56,80.1],[28.8,82.5],[29.2,76.8],[29.5,70.3],
  [29.8,68.6],[30.05,71.9],[30.34,77.6],
  null,
  [30.44,42.5],[30.63,60.5],[30.75,71.9],[30.87,80.9],[30.99,65.4],[31.11,62.1],[31.23,65.4],[31.35,69.0],[31.47,68.6],[31.72,70.0],
  [31.94,70.3],[32.42,69.4],[32.9,69.4],[33.38,68.6],[33.61,69.4],[33.85,67.8],[34.09,63.7],[34.33,65.4],[34.57,64.5],[34.81,62.9],
  [35.05,67.0],[35.28,72.7],[35.52,74.8],[35.76,76.5],[36.0,77.1],[36.24,77.6],
  null,
  [36.91,69.4],[37.0,80.9],[37.15,77.6],[37.24,66.2],[37.36,40.9],[37.43,56.4],[37.79,56.4],[38.03,55.6],[38.39,59.6],[38.63,61.3],
  [39.1,62.9],[39.58,63.7],[39.94,62.9],[40.18,60.5],[40.42,62.9],[40.65,64.5],[41.01,65.4],[41.37,65.4],[41.73,64.5],[41.97,65.4],
  [42.21,62.9],[42.44,63.7],[42.68,64.5],[42.92,60.5],[43.04,59.6],[43.16,63.7],[43.28,71.9],[43.52,56.4],[43.8,80.9],[43.88,66.2],
  [44.12,71.1],[44.35,71.9],[44.71,70.3],[45.07,65.4],[45.43,57.2],[45.79,53.1],[46.26,49.0],[46.62,50.6],[46.98,51.5],[47.46,52.3],
  [47.81,53.9],[48.17,54.7],[48.65,56.4],[49.01,56.9],[49.37,57.5],[49.72,59.6],[50.08,60.5],[50.32,63.7],[50.56,65.4],[50.8,65.4],
  [51.04,68.6],[51.28,73.5],[51.51,75.2],[51.75,76.0],[51.99,74.4],[52.11,83.3],[52.35,80.1],[52.52,77.6],[52.71,77.6],[52.95,78.4],
  [53.19,83.3],[53.42,85.8],[53.66,86.6],[53.9,85.8],[54.14,81.7],[54.38,76.8],[54.62,71.9],[54.86,68.6],[55.09,63.7],[55.33,57.2],
  [55.57,53.9],[55.81,50.6],[56.05,52.3],[56.29,57.2],[56.53,61.3],[56.76,63.7],[56.99,62.9],[57.23,60.5],[57.47,59.6],[57.71,54.8],
  [57.95,49.8],[58.07,51.5],[58.31,53.1],[58.54,53.9],[58.66,54.3],[58.78,60.5],[58.9,69.4],[59.02,68.6],[59.09,65.4],[59.19,68.6],
  [59.38,71.9],[59.62,71.1],[59.86,71.9],[60.1,76.8],[60.33,80.9],[60.57,84.2],[60.81,88.2],[61.05,84.2],[61.29,80.1],[61.53,77.6],
  [61.77,76.5],[62.01,78.4],[62.24,81.7],[62.48,84.2],[62.72,85.8],[62.96,85.0],[63.2,83.3],[63.44,75.2],[63.68,63.7],[63.91,52.3],
  [64.15,44.1],[64.39,42.5],[64.63,43.3],[64.87,41.7],[65.11,42.5],[65.35,45.8],[65.59,47.4],[65.82,48.2],[66.06,47.4],[66.3,50.6],
  [66.54,51.5],[66.78,50.6],[67.02,49.8],[67.26,48.2],[67.49,49.0],[67.73,50.6],[67.97,49.0],[68.21,49.8],[68.45,50.6],[68.69,53.1],
  [68.93,54.7],[69.17,55.6],[69.4,57.2],[69.64,60.5],[69.88,61.3],[70.12,58.8],[70.36,59.6],[70.6,59.6],[70.84,58.8],[71.07,61.3],
  [71.31,65.4],[71.55,66.2],[71.79,67.0],[72.03,65.4],[72.27,68.6],[72.51,71.9],[72.75,74.4],[72.98,79.3],[73.22,85.0],[73.46,89.9],
  [73.7,90.7],[73.94,86.6],[74.18,78.4],[74.42,73.9],[74.65,73.5],[74.89,73.5],[75.13,68.6],[75.37,62.1],[75.61,57.2],[75.85,53.9],
  [76.09,51.5],[76.33,53.9],[76.56,57.2],[76.8,58.8],[77.04,64.5],[77.28,73.5],[77.52,80.1],[77.76,81.7],[78.0,76.8],[78.23,62.1],
  [78.47,56.4],[78.71,54.8],[78.95,55.6],[79.19,54.8],[79.43,57.2],[79.67,52.3],[79.9,45.8],[80.14,44.1],[80.38,43.3],[80.62,40.9],
  [80.86,42.5],[81.1,41.7],[81.34,44.1],[81.58,47.4],[81.81,50.6],[82.05,52.3],[82.29,63.7],[82.41,73.5]
];
const humOutMean = [[2.42,68.1],[82.76,68.1]];

// ── AXES ──
const crackMajor = [-4000, -2000, 0, 2000, 4000, 6000];
const crackMinor = [-3000, -1000, 1000, 3000, 5000];
const humInMajor = [30, 40, 50, 60, 70];
const humInMinor = [35, 45, 55, 65];
const tempInMajor = [64, 66, 68, 70, 72, 74, 76];
const tempInMinor = [65, 67, 69, 71, 73, 75];
const humOutMajor = [0, 20, 40, 60, 80, 100];
const humOutMinor = [10, 30, 50, 70, 90];
const dateTickDays = [0, 10, 20, 30, 40, 50, 60, 70, 80];
const dateTickLabels = ['7/16/04', '7/26/04', '8/5/04', '8/15/04', '8/25/04', '9/4/04', '9/14/04', '9/24/04', '10/4/04'];
const dateMarkDays = [0, 2.5, 5, 7.5, 10, 12.5, 15, 17.5, 20, 22.5, 25, 27.5, 30, 32.5, 35, 37.5, 40, 42.5, 45, 47.5,
                      50, 52.5, 55, 57.5, 60, 62.5, 65, 67.5, 70, 72.5, 75, 77.5, 80, 82.5, 85];

const SANS = "'Liberation Sans', Arimo, Arial, sans-serif";

function toPoints(pairs) {
    const pts = [];
    pairs.forEach((p, i) => {
        if (p === null) {
            pts.push({ x: pairs[i - 1][0] + 0.05, y: null });
        } else {
            pts.push({ x: p[0], y: p[1] });
        }
    });
    return pts;
}

// condensed (Arial Narrow look) label, Liberation Sans squeezed to 82 %
function narrowText(ctx, text, x, y, align) {
    ctx.save();
    ctx.translate(x, y);
    ctx.scale(0.82, 1);
    ctx.textAlign = align;
    ctx.textBaseline = 'middle';
    ctx.fillText(text, 0, 0);
    ctx.restore();
}

// ticks and tick labels the way the paper plot does them
const paperTicks = {
    id: 'paperTicks',
    afterDraw(chart, args, opts) {
        const ctx = chart.ctx;
        const ys = chart.scales.y;
        const left = chart.chartArea.left;
        ctx.save();
        ctx.lineWidth = 1;
        ctx.strokeStyle = '#7a7a7a';
        const hLine = (v, len) => {
            const py = Math.round(ys.getPixelForValue(v)) + 0.5;
            ctx.beginPath();
            ctx.moveTo(left - len, py);
            ctx.lineTo(left, py);
            ctx.stroke();
        };
        opts.major.forEach(v => hLine(v, 23));
        opts.minor.forEach(v => hLine(v, 12));

        ctx.fillStyle = '#000';
        ctx.font = '26px ' + SANS;
        opts.major.forEach(v => narrowText(ctx, String(v), left - opts.labelGap, ys.getPixelForValue(v) + 1, 'right'));

        if (opts.dateMarks) {
            const xs = chart.scales.x;
            const base = chart.chartArea.bottom;
            ctx.strokeStyle = '#333';
            opts.dateMarks.forEach(d => {
                const px = Math.round(xs.getPixelForValue(d)) + 0.5;
                const len = (d % 5 === 0) ? 41 : 21;
                ctx.beginPath();
                ctx.moveTo(px, base);
                ctx.lineTo(px, base + len);
                ctx.stroke();
            });
            dateTickDays.forEach((d, i) => narrowText(ctx, dateTickLabels[i], xs.getPixelForValue(d), base + 82, 'center'));
            // arrow head at the end of the time axis
            const tip = xs.right + 2;
            ctx.fillStyle = '#000';
            ctx.beginPath();
            ctx.moveTo(tip - 14, base - 10.5);
            ctx.lineTo(tip, base + 0.5);
            ctx.lineTo(tip - 14, base + 11.5);
            ctx.closePath();
            ctx.fill();
        }
        ctx.restore();
    }
};

function makePanel(canvasId, p) {
    const showDates = !!p.dates;
    return new Chart(document.getElementById(canvasId), {
        type: 'line',
        data: {
            datasets: [
                { data: toPoints(p.mean), borderColor: '#0000ff', borderWidth: 4, order: 0 },
                { data: toPoints(p.black), borderColor: '#000000', borderWidth: 1, order: 1, clip: false },
                { data: toPoints(p.red), borderColor: '#ff0000', borderWidth: 1, order: 2, clip: false }
            ]
        },
        options: {
            responsive: false,
            animation: false,
            devicePixelRatio: 1,
            spanGaps: false,
            layout: { padding: { left: 0, right: 8, top: p.padTop, bottom: p.padBottom } },
            elements: { point: { radius: 0 }, line: { tension: 0 } },
            plugins: {
                legend: { display: false },
                tooltip: { enabled: false },
                paperTicks: { major: p.major, minor: p.minor, labelGap: p.labelGap, dateMarks: showDates ? dateMarkDays : null }
            },
            scales: {
                x: {
                    type: 'linear',
                    min: p.xMin,
                    max: 85,
                    display: showDates,
                    grid: { display: false },
                    border: { display: true, color: '#333', width: 1 },
                    ticks: { display: false },
                    afterFit: s => { if (showDates) s.height = 99; }
                },
                y: {
                    min: p.yMin,
                    max: p.yMax,
                    grid: { display: false },
                    border: { display: true, color: '#000', width: 1 },
                    ticks: { display: false },
                    afterFit: s => { s.width = p.axisX; }
                }
            }
        },
        plugins: [paperTicks]
    });
}

function init() {
    makePanel('cCrack', { red: crackRed, black: crackBlack, mean: crackMean, yMin: -4000, yMax: 6000,
        major: crackMajor, minor: crackMinor, axisX: 118, xMin: -0.18, padTop: 29, padBottom: 22, labelGap: 37 });
    makePanel('cHumIn', { red: humInRed, black: humInBlack, mean: humInMean, yMin: 30, yMax: 70,
        major: humInMajor, minor: humInMinor, axisX: 116, xMin: -0.32, padTop: 58, padBottom: 23, labelGap: 37 });
    makePanel('cTempIn', { red: tempInRed, black: tempInBlack, mean: tempInMean, yMin: 64, yMax: 76,
        major: tempInMajor, minor: tempInMinor, axisX: 114, xMin: -0.46, padTop: 51, padBottom: 20, labelGap: 37 });
    makePanel('cHumOut', { red: humOutRed, black: humOutBlack, mean: humOutMean, yMin: 0, yMax: 100,
        major: humOutMajor, minor: humOutMinor, axisX: 120, xMin: -0.04, padTop: 36, padBottom: 0, labelGap: 39, dates: true });
}

if (document.fonts && document.fonts.ready) {
    document.fonts.ready.then(init);
} else {
    init();
}
</script>
</body>
</html>
